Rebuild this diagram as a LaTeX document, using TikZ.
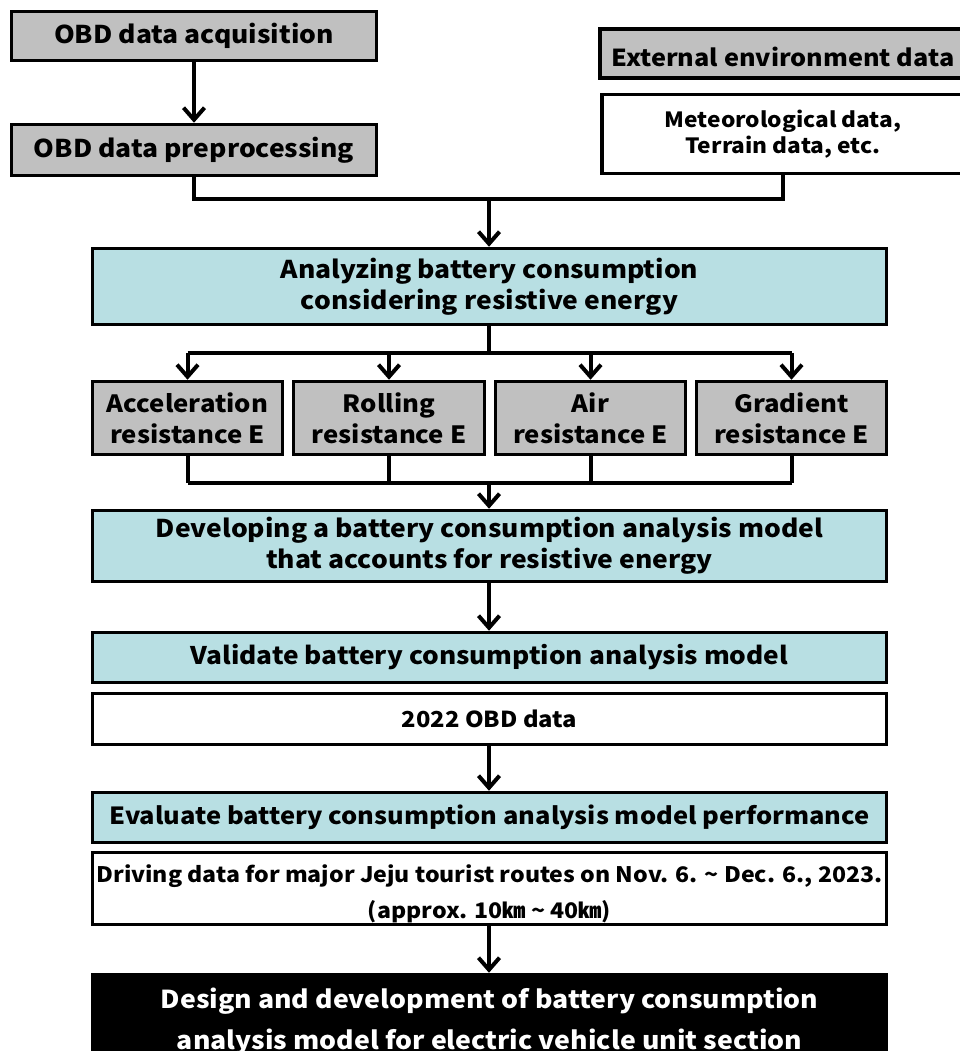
\documentclass[tikz,border=0pt]{standalone}
\usepackage{fontspec}
\setmainfont{Noto Sans CJK KR}[FakeStretch=1.08]
\usetikzlibrary{arrows.meta}
\definecolor{boxgrey}{HTML}{C0C0C0}
\definecolor{boxteal}{HTML}{B8DFE3}
\tikzset{
  box/.style={draw=black, line width=3.5pt, inner sep=0pt, align=center,
    font=\bfseries\fontsize{24.5}{31}\selectfont},
  greybox/.style={box, fill=boxgrey},
  tealbox/.style={box, fill=boxteal},
  plainbox/.style={box, fill=white},
  blackbox/.style={box, fill=black, text=white},
  boxtext/.style={inner sep=0pt, align=center},
  link/.style={line width=4pt},
  flow/.style={link, -{Straight Barb[length=12pt,width=21pt,line width=4pt]}},
}
\begin{document}
\begin{tikzpicture}[x=1pt,y=-1pt]
\useasboundingbox (0,0) rectangle (960,1051);
\clip (0,0) rectangle (960,1051);

% input stage
\node[greybox, minimum width=365, minimum height=49] (acq) at (194,36) {OBD data acquisition};
\node[greybox, minimum width=365, minimum height=51] (pre) at (194,150) {OBD data preprocessing};
\node[greybox, minimum width=362, minimum height=49] (ext) at (781,53.5) {};
\node[boxtext, font=\bfseries\fontsize{23.4}{31}\selectfont] (exttext) at ([xshift=2pt,yshift=-3pt]ext.center) {External environment data};
\node[plainbox, minimum width=362, minimum height=79, font=\bfseries\fontsize{21}{26}\selectfont] (met) at (783,134) {Meteorological data,\\Terrain data, etc.};

% analysis
\node[tealbox, minimum width=794, minimum height=76] (ana) at (489.5,286.5) {Analyzing battery consumption\\considering resistive energy};
\node[greybox, minimum width=190, minimum height=73, font=\bfseries\fontsize{23.8}{31}\selectfont] (r1) at (187.5,418) {Acceleration\\resistance E};
\node[greybox, minimum width=191, minimum height=73, font=\bfseries\fontsize{23.8}{31}\selectfont] (r2) at (389,418) {Rolling\\resistance E};
\node[greybox, minimum width=190, minimum height=73, font=\bfseries\fontsize{23.8}{31}\selectfont] (r3) at (590.5,418) {Air\\resistance E};
\node[greybox, minimum width=190, minimum height=73, font=\bfseries\fontsize{23.8}{31}\selectfont] (r4) at (791.5,418) {Gradient\\resistance E};

% model development and validation
\node[tealbox, minimum width=794, minimum height=71] (dev) at (489.5,546) {Developing a battery consumption analysis model\\that accounts for resistive energy};
\node[tealbox, minimum width=794, minimum height=50, font=\bfseries\fontsize{24.3}{31}\selectfont] (val) at (489.5,657.5) {Validate battery consumption analysis model};
\node[plainbox, minimum width=794, minimum height=51, font=\bfseries\fontsize{22}{26}\selectfont] (d22) at (489.5,719) {2022 OBD data};
\node[tealbox, minimum width=794, minimum height=50, font=\bfseries\fontsize{23.6}{31}\selectfont] (eva) at (489.5,817.5) {Evaluate battery consumption analysis model performance};
\node[plainbox, minimum width=794, minimum height=72] (drv) at (489.5,888.5) {};
\node[boxtext, font=\bfseries\fontsize{21.4}{36}\selectfont] (drvtext) at ([yshift=-5pt]drv.center) {Driving data for major Jeju tourist routes on Nov. 6. \textasciitilde{} Dec. 6., 2023.\\(approx. 10㎞ \textasciitilde{} 40㎞)};
\node[blackbox, minimum width=794, minimum height=93, font=\bfseries\fontsize{24.7}{41}\selectfont] (des) at (489.5,1021) {Design and development of battery consumption\\analysis model for electric vehicle unit section};

% connectors
\draw[flow] (acq.south) -- (pre.north);
\coordinate (jn) at (489,199);
\draw[link] (pre.south) |- (jn) -| (met.south);
\draw[flow] (jn) -- (ana.north -| jn);

\coordinate (sp) at (489,353);
\draw[link] (ana.south -| sp) -- (sp);
\draw[link] (r1.north |- sp) -- (r4.north |- sp);
\foreach \r in {r1,r2,r3,r4} \draw[flow] (\r.north |- sp) -- (\r.north);

\coordinate (mg) at (489,483);
\draw[link] (r1.south |- mg) -- (r4.south |- mg);
\foreach \r in {r1,r2,r3,r4} \draw[link] (\r.south) -- (\r.south |- mg);
\draw[flow] (mg) -- (dev.north -| mg);

\draw[flow] (dev.south -| mg) -- (val.north -| mg);
\draw[flow] (d22.south -| mg) -- (eva.north -| mg);
\draw[flow] (drv.south -| mg) -- (des.north -| mg);
\end{tikzpicture}
\end{document}
